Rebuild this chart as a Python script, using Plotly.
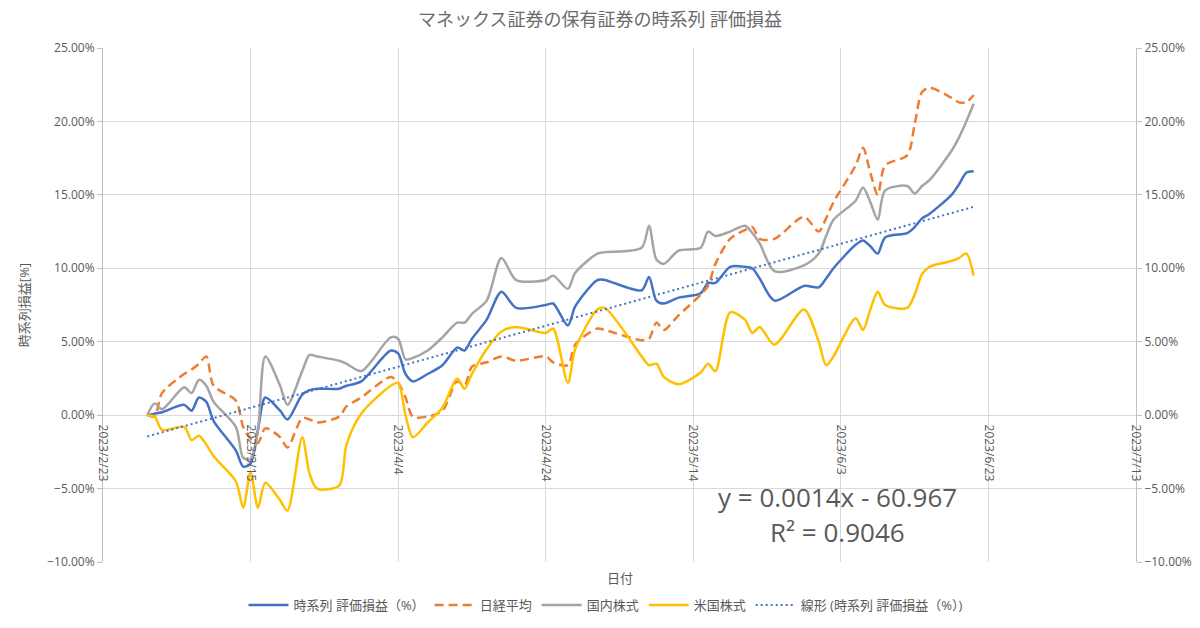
import numpy as np
import pandas as pd
import plotly.graph_objects as go

# ---------- データ（グラフから読み取り、単位は %） ----------

dates = [
    "2023-03-01", "2023-03-02", "2023-03-03", "2023-03-06", "2023-03-07", "2023-03-08",
    "2023-03-09", "2023-03-10", "2023-03-13", "2023-03-14", "2023-03-15", "2023-03-16",
    "2023-03-17", "2023-03-19", "2023-03-20", "2023-03-22", "2023-03-23", "2023-03-24",
    "2023-03-27", "2023-03-28", "2023-03-30", "2023-04-03", "2023-04-04", "2023-04-05",
    "2023-04-06", "2023-04-08", "2023-04-10", "2023-04-12", "2023-04-13", "2023-04-14",
    "2023-04-16", "2023-04-18", "2023-04-20", "2023-04-24", "2023-04-25", "2023-04-27",
    "2023-04-28", "2023-05-01", "2023-05-02", "2023-05-07", "2023-05-08", "2023-05-09",
    "2023-05-10", "2023-05-12", "2023-05-15", "2023-05-16", "2023-05-17", "2023-05-19",
    "2023-05-21", "2023-05-22", "2023-05-23", "2023-05-25", "2023-05-29", "2023-05-31",
    "2023-06-01", "2023-06-02", "2023-06-05", "2023-06-06", "2023-06-07", "2023-06-08",
    "2023-06-09", "2023-06-12", "2023-06-13", "2023-06-14", "2023-06-15", "2023-06-18",
    "2023-06-19", "2023-06-20", "2023-06-21",
]

# 時系列 評価損益（%）
total_pct = [
    0.0, 0.1, 0.2, 0.7, 0.3, 1.2,
    0.9, -0.4, -2.4, -3.5, -3.3, -1.0,
    1.2, 0.3, -0.3, 1.4, 1.7, 1.8,
    1.8, 2.0, 2.3, 4.4, 4.2, 2.8,
    2.3, 2.8, 3.4, 4.6, 4.4, 5.2,
    6.5, 8.4, 7.3, 7.5, 7.6, 6.1,
    7.4, 9.2, 9.2, 8.5, 9.4, 7.8,
    7.6, 8.0, 8.3, 9.0, 9.0, 10.1,
    10.1, 10.0, 9.3, 7.8, 8.8, 8.7,
    9.3, 10.0, 11.6, 11.9, 11.5, 11.0,
    12.1, 12.4, 12.8, 13.4, 13.7, 15.0,
    15.7, 16.5, 16.6,
]

# 日経平均
nikkei_pct = [
    0.0, -0.1, 1.5, 2.8, 3.1, 3.5,
    4.0, 2.0, 1.0, -0.8, -1.6, -1.9,
    -0.9, -1.5, -2.2, -0.2, -0.3, -0.5,
    -0.1, 0.6, 1.2, 2.6, 2.2, 1.2,
    -0.1, -0.1, 0.3, 2.3, 2.0, 3.3,
    3.6, 4.0, 3.7, 4.0, 3.6, 3.4,
    4.8, 5.9, 5.8, 5.1, 5.2, 6.3,
    5.8, 6.8, 8.2, 8.8, 10.3, 12.0,
    12.6, 12.8, 12.0, 12.0, 13.5, 12.5,
    13.4, 14.5, 17.0, 18.2, 16.5, 15.0,
    17.0, 17.7, 19.8, 22.0, 22.3, 21.6,
    21.3, 21.3, 21.8,
]

# 国内株式
domestic_pct = [
    0.0, 0.8, 0.4, 1.9, 1.5, 2.4,
    2.0, 0.9, -0.8, -2.9, -3.0, -1.0,
    4.0, 2.0, 0.7, 3.0, 4.1, 4.0,
    3.7, 3.5, 3.0, 5.3, 5.2, 3.8,
    3.9, 4.4, 5.3, 6.3, 6.3, 6.9,
    7.8, 10.7, 9.2, 9.2, 9.5, 8.6,
    9.7, 11.0, 11.1, 11.4, 12.9, 10.6,
    10.3, 11.2, 11.4, 12.5, 12.2, 12.5,
    12.9, 12.4, 11.7, 9.8, 10.2, 11.0,
    12.2, 13.3, 14.6, 15.5, 14.5, 13.3,
    15.3, 15.6, 15.1, 15.6, 16.0, 18.0,
    18.9, 20.0, 21.2,
]

# 米国株式
us_pct = [
    0.0, -0.1, -1.0, -0.8, -1.7, -1.4,
    -2.0, -2.8, -4.5, -6.3, -3.9, -6.3,
    -4.6, -5.8, -6.5, -1.5, -4.0, -5.0,
    -4.8, -2.0, 0.1, 2.0, 2.2, 0.0,
    -1.5, -0.5, 0.5, 2.5, 1.8, 2.8,
    4.5, 5.7, 6.0, 5.6, 5.9, 2.2,
    4.5, 7.2, 7.3, 4.0, 3.4, 3.5,
    2.6, 2.1, 2.9, 3.5, 3.0, 7.0,
    6.5, 5.6, 6.0, 4.8, 7.2, 5.0,
    3.4, 4.0, 6.6, 5.8, 7.2, 8.4,
    7.5, 7.3, 8.2, 9.6, 10.1, 10.5,
    10.7, 11.0, 9.5,
]

x_ticks = ["2023-02-23", "2023-03-15", "2023-04-04", "2023-04-24",
           "2023-05-14", "2023-06-03", "2023-06-23", "2023-07-13"]
y_ticks = [-10, -5, 0, 5, 10, 15, 20, 25]

title = "マネックス証券の保有証券の時系列 評価損益"
series_names = ["時系列 評価損益（%）", "日経平均", "国内株式", "米国株式"]
trend_name = "線形 (時系列 評価損益（%）)"

# ---------- 描画 ----------

TXT = "#595959"
GRID = "#D9D9D9"
FONT = "Open Sans, Noto Sans CJK JP, sans-serif"

x = pd.to_datetime(dates)

# 近似直線（時系列 評価損益 の最小二乗）
days = (x - x[0]).days.to_numpy(dtype=float)
slope, icpt = np.polyfit(days, np.array(total_pct) / 100.0, 1)
trend_x = [x[0], x[-1]]
trend_y = [icpt, icpt + slope * days[-1]]

fig = go.Figure()
styles = [
    dict(color="#4472C4", width=2.5),
    dict(color="#ED7D31", width=2.5, dash="9px,5px"),
    dict(color="#A5A5A5", width=2.5),
    dict(color="#FFC000", width=2.5),
]
for name, vals, st in zip(series_names, [total_pct, nikkei_pct, domestic_pct, us_pct], styles):
    fig.add_trace(go.Scatter(
        x=x, y=np.array(vals) / 100.0, name=name, mode="lines",
        line=dict(shape="spline", smoothing=0.8, **st),
    ))
fig.add_trace(go.Scatter(
    x=trend_x, y=trend_y, name=trend_name, mode="lines",
    line=dict(color="#4472C4", width=2, dash="2px,3px"),
))
# 右軸（同じ目盛）
fig.add_trace(go.Scatter(x=trend_x, y=trend_y, yaxis="y2", mode="lines",
                         line=dict(width=0), showlegend=False, hoverinfo="skip"))

tick_dt = pd.to_datetime(x_ticks)
tick_text = [f"{d.year}/{d.month}/{d.day}" for d in tick_dt]
yvals = [v / 100.0 for v in y_ticks]
zero_pos = (0 - y_ticks[0]) / (y_ticks[-1] - y_ticks[0])

# ページの body 余白 (8px) を差し引いたサイズ・座標
OFF = 8
W, H = 1200 - 2 * OFF, 628 - 2 * OFF
PL, PR, PT, PB = 103 - OFF, 1136 - OFF, 48 - OFF, 562 - OFF  # プロット領域（px）


def py(y_img):
    return (PB - (y_img - OFF)) / (PB - PT)


def px_(x_img):
    return ((x_img - OFF) - PL) / (PR - PL)


fig.update_layout(
    width=W, height=H,
    plot_bgcolor="white", paper_bgcolor="white",
    font=dict(family=FONT, color=TXT, size=12),
    margin=dict(l=PL, r=W - PR, t=PT, b=H - PB, autoexpand=False),
    title=dict(text=title, x=(600 - OFF) / W, xref="container",
               y=1 - (20 - OFF) / H, yref="container",
               xanchor="center", yanchor="middle",
               font=dict(size=18, color="#6b6b6b")),
    xaxis=dict(
        type="date", range=[tick_dt[0], tick_dt[-1]],
        tickvals=tick_dt, ticktext=tick_text, tickangle=90,
        ticks="outside", ticklen=6, tickcolor="rgba(0,0,0,0)",
        showgrid=True, gridcolor=GRID, gridwidth=1,
        zeroline=False, showline=False,
        anchor="free", position=zero_pos,
        tickfont=dict(size=12, color=TXT),
    ),
    yaxis=dict(
        range=[yvals[0], yvals[-1]], tickvals=yvals, tickformat=".2%",
        showgrid=True, gridcolor=GRID, zeroline=False,
        showline=True, linecolor="#BFBFBF", ticks="outside", ticklen=5, tickcolor="#BFBFBF",
        title=dict(text="時系列損益[%]", font=dict(size=13, color=TXT), standoff=14),
        tickfont=dict(size=12, color=TXT),
    ),
    yaxis2=dict(
        range=[yvals[0], yvals[-1]], tickvals=yvals, tickformat=".2%",
        overlaying="y", side="right", showgrid=False, zeroline=False,
        showline=True, linecolor="#BFBFBF", ticks="outside", ticklen=5, tickcolor="#BFBFBF",
        tickfont=dict(size=12, color=TXT),
    ),
    legend=dict(orientation="h", xref="container", yref="container",
                x=(606 - OFF) / W, xanchor="center", y=0, yanchor="bottom",
                font=dict(size=13, color=TXT), itemwidth=40, tracegroupgap=0,
                bgcolor="rgba(0,0,0,0)"),
    showlegend=True,
)

fig.add_annotation(text="日付", xref="paper", yref="paper", x=px_(620), y=py(578),
                   showarrow=False, font=dict(size=13, color=TXT),
                   xanchor="center", yanchor="middle")
fig.add_annotation(text="y = 0.0014x - 60.967", xref="paper", yref="paper",
                   x=px_(837), y=py(497), showarrow=False,
                   font=dict(size=26, color=TXT), xanchor="center", yanchor="middle")
fig.add_annotation(text="R² = 0.9046", xref="paper", yref="paper",
                   x=px_(837), y=py(532), showarrow=False,
                   font=dict(size=26, color=TXT), xanchor="center", yanchor="middle")

fig.write_html("out.html")
